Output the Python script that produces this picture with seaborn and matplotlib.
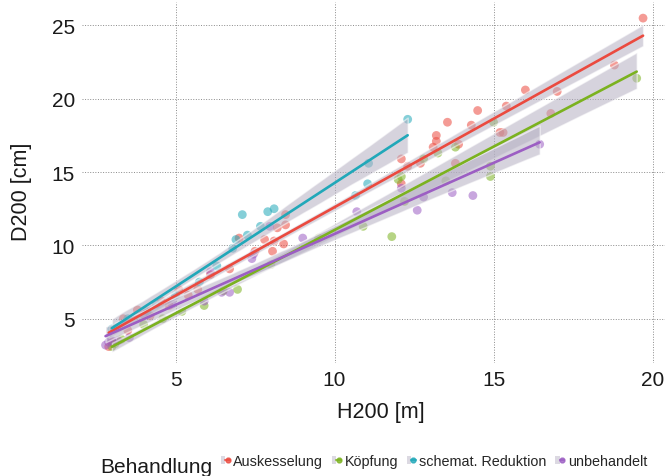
import matplotlib
matplotlib.use('Agg')
import matplotlib.pyplot as plt
import seaborn as sns
import pandas as pd
from matplotlib.lines import Line2D
from matplotlib.patches import Patch
from matplotlib.collections import PolyCollection
from matplotlib.legend_handler import HandlerTuple

# --- Daten ---
gruppen = ['Auskesselung', 'Köpfung', 'schemat. Reduktion', 'unbehandelt']

h_ausk = [2.9, 3.0, 3.36, 3.5, 3.8, 4.2, 4.56, 4.8, 5.1, 5.4, 5.7, 6.1, 6.7, 7.0,
          7.5, 7.8, 8.05, 8.1, 8.2, 8.4, 8.46, 8.46, 12.1, 12.1, 12.3, 12.7, 13.1,
          13.2, 13.2, 13.55, 13.8, 13.9, 14.3, 14.5, 15.2, 15.3, 15.4, 16.0, 16.8,
          17.0, 18.8, 19.7]
d_ausk = [3.1, 3.4, 5.0, 4.2, 5.6, 5.2, 6.2, 5.9, 7.0, 6.6, 7.0, 8.0, 8.4, 10.5,
          9.6, 10.4, 9.6, 10.3, 11.2, 10.1, 11.4, 12.1, 14.2, 15.9, 15.4, 15.6, 16.7,
          17.1, 17.5, 18.4, 15.6, 16.9, 18.2, 19.2, 17.7, 17.7, 19.5, 20.6, 19.0,
          20.5, 22.3, 25.5]

h_koepf = [3.0, 3.1, 3.3, 4.0, 4.6, 5.2, 5.9, 6.5, 6.95, 8.0, 9.5, 10.9, 11.8,
           12.0, 12.1, 12.2, 12.8, 13.25, 13.5, 13.8, 14.9, 14.9, 15.0, 19.5]
d_koepf = [3.1, 3.3, 3.6, 4.6, 5.0, 5.5, 5.9, 6.9, 7.0, 8.7, 10.5, 11.3, 10.6,
           14.5, 14.7, 13.0, 15.9, 16.3, 14.4, 16.7, 14.7, 15.4, 18.4, 21.4]

h_red = [3.0, 3.1, 3.5, 4.1, 4.4, 5.0, 5.75, 6.3, 6.8, 6.9, 7.1, 7.26, 7.67, 7.9,
         8.1, 10.66, 11.04, 11.07, 12.3]
d_red = [4.3, 4.4, 5.0, 5.5, 6.0, 6.6, 7.5, 8.6, 9.8, 10.4, 12.1, 10.7, 11.3, 12.3,
         12.5, 13.4, 14.2, 15.6, 18.6]

h_unb = [2.8, 2.9, 3.0, 3.2, 3.55, 4.0, 4.9, 5.9, 6.1, 6.45, 6.7, 7.4, 7.45, 7.96,
         9.0, 10.7, 12.1, 12.6, 12.8, 13.7, 14.35, 16.45]
d_unb = [3.2, 3.4, 3.5, 3.5, 3.7, 5.3, 6.0, 6.2, 8.2, 6.8, 6.8, 9.1, 9.4, 11.3,
         10.5, 12.3, 13.9, 12.4, 13.3, 13.6, 13.4, 16.9]

farben = {'Auskesselung': '#eb4a3f', 'Köpfung': '#7bb21f',
          'schemat. Reduktion': '#21a8b9', 'unbehandelt': '#9c5ec3'}

df = pd.concat([
    pd.DataFrame({'H200': h_ausk, 'D200': d_ausk, 'Behandlung': gruppen[0]}),
    pd.DataFrame({'H200': h_koepf, 'D200': d_koepf, 'Behandlung': gruppen[1]}),
    pd.DataFrame({'H200': h_red, 'D200': d_red, 'Behandlung': gruppen[2]}),
    pd.DataFrame({'H200': h_unb, 'D200': d_unb, 'Behandlung': gruppen[3]}),
], ignore_index=True)

# --- Grafik ---
sns.set_style('white')
plt.rcParams['font.family'] = ['Liberation Sans', 'DejaVu Sans']

fig = plt.figure(figsize=(6.65, 4.77), dpi=100)
ax = fig.add_axes([82 / 665, 113 / 477, 583 / 665, 361 / 477])

sns.scatterplot(data=df, x='H200', y='D200', hue='Behandlung', palette=farben,
                s=40, alpha=0.55, linewidth=0, legend=False, ax=ax, zorder=2)

for g in gruppen:
    sub = df[df['Behandlung'] == g]
    sns.regplot(data=sub, x='H200', y='D200', scatter=False, color=farben[g],
                ci=95, seed=1, line_kws={'lw': 1.9, 'zorder': 4}, ax=ax)

# Konfidenzbänder grau wie in ggplot
for coll in ax.collections:
    if isinstance(coll, PolyCollection):
        coll.set_facecolor('#b5afc2')
        coll.set_alpha(0.55)
        coll.set_zorder(3)

ax.set_xlim(2.06, 20.39)
ax.set_ylim(1.98, 26.6)
ax.set_xticks([5, 10, 15, 20])
ax.set_yticks([5, 10, 15, 20, 25])
ax.grid(True, color='#8a8a8a', ls=':', lw=0.7)
ax.set_axisbelow(True)
for s in ax.spines.values():
    s.set_visible(False)
ax.tick_params(axis='both', labelsize=15, length=3, color='#777777', pad=2,
               labelcolor='#1a1a1a')

ax.set_xlabel('H200 [m]', fontsize=15.5, color='#1a1a1a', va='center')
ax.xaxis.set_label_coords(0.513, -0.133)
ax.set_ylabel('D200 [cm]', fontsize=15.5, color='#1a1a1a', va='center')
ax.yaxis.set_label_coords(-0.103, 0.476)

# --- Legende unten ---
fig.text(100 / 665, 1 - 473 / 477, 'Behandlung', fontsize=15, va='baseline',
         color='#1a1a1a')
handles = [(Patch(facecolor='#dcd9e2', edgecolor='none'),
            Line2D([], [], color=farben[g], lw=1.5, marker='o', ms=3.5, alpha=0.8))
           for g in gruppen]
fig.legend(handles, gruppen, handler_map={tuple: HandlerTuple(ndivide=None)},
           ncol=4, loc='center left', bbox_to_anchor=(221 / 665, 1 - 462 / 477),
           frameon=False, fontsize=10.4, handlelength=0.6, handleheight=0.5,
           handletextpad=0.25, columnspacing=0.62, borderpad=0, borderaxespad=0)

fig.savefig('out.png', dpi=100)
